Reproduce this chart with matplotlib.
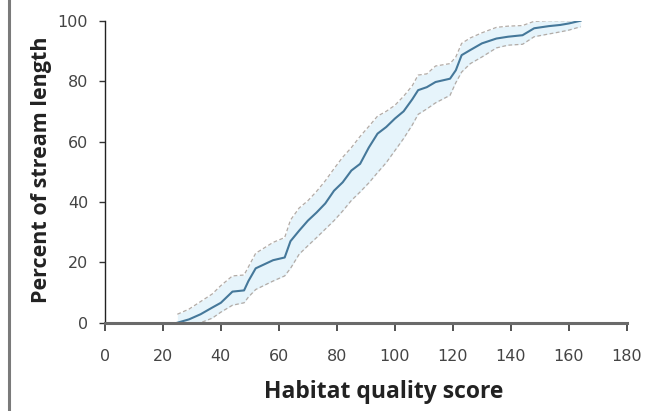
import numpy as np
import matplotlib
matplotlib.use("Agg")
import matplotlib.pyplot as plt
from matplotlib.lines import Line2D

# cumulative percent of stream length by habitat quality score
score = [25, 29, 33, 37, 40, 44, 48, 49.5, 52, 58, 62, 64, 67, 70, 73, 76, 79, 82, 85, 88,
         91, 94, 97, 100, 103, 106, 108, 111, 114, 119, 121, 123, 126, 130, 135, 139, 144,
         148, 153, 157, 160, 164]
pct_median = [0, 1.1, 2.8, 5, 6.6, 10.3, 10.7, 13.8, 18, 20.7, 21.6, 27, 30.5, 33.8, 36.5,
              39.5, 43.7, 46.5, 50.4, 52.6, 58, 62.6, 64.8, 67.6, 70, 74, 77, 78, 79.7, 80.8,
              83.6, 88.6, 90.3, 92.5, 94.1, 94.7, 95.2, 97.5, 98.2, 98.6, 99.1, 100]
pct_upper = [2.8, 4.5, 7, 9.5, 12.3, 15.5, 15.8, 18.5, 23, 26.6, 28.2, 34, 38, 40.4, 43.5,
             47, 51, 54.8, 58, 61.7, 65, 68.4, 70, 72, 75, 78.5, 82, 82.4, 85, 85.8, 88, 92.5,
             94.3, 96, 97.8, 98.2, 98.4, 99.8, 100, 100, 100, 100]
pct_lower = [0, 0, 0, 1.5, 3.5, 5.8, 6.6, 8.5, 11, 13.8, 15.5, 18, 22.7, 25.5, 28.2, 31,
             33.8, 37, 40.5, 43.3, 46.3, 49.7, 53, 57, 61, 65.5, 69, 70.8, 72.8, 75.3, 79.5,
             83, 85.8, 88, 91, 91.9, 92.2, 94.7, 95.6, 96.3, 96.9, 98]

x_ticks = [0, 20, 40, 60, 80, 100, 120, 140, 160, 180]
y_ticks = [0, 20, 40, 60, 80, 100]

fig = plt.figure(figsize=(6.72, 4.11), dpi=100)
ax = fig.add_axes([0.156, 0.2148, 0.777, 0.7348])

ax.fill_between(score, pct_lower, pct_upper, color="#e6f4fb", lw=0, zorder=1)
ax.plot(score, pct_upper, color="#b2aba6", lw=0.9, ls=(0, (3, 2)), zorder=2)
ax.plot(score, pct_lower, color="#b2aba6", lw=0.9, ls=(0, (3, 2)), zorder=2)
ax.plot(score, pct_median, color="#45789a", lw=1.5, zorder=3)

ax.set_xlim(0, 180)
ax.set_ylim(0, 100)
ax.set_xticks(x_ticks)
ax.set_yticks(y_ticks)

for side in ("top", "right"):
    ax.spines[side].set_visible(False)
ax.spines["bottom"].set_color("#6a6a6a")
ax.spines["bottom"].set_linewidth(2.2)
ax.spines["bottom"].set_zorder(4)
ax.spines["left"].set_color("#222222")
ax.spines["left"].set_linewidth(1.0)

ax.tick_params(axis="x", direction="out", length=6, width=1.2, color="#333333",
               pad=13, labelsize=11.5, labelcolor="#444444")
ax.tick_params(axis="y", direction="out", length=4, width=1.0, color="#333333",
               pad=8, labelsize=11.5, labelcolor="#444444")
for lab in ax.get_xticklabels() + ax.get_yticklabels():
    lab.set_fontfamily("DejaVu Sans")

ax.set_xlabel("Habitat quality score", fontsize=16.5, fontweight="bold",
              fontfamily="Open Sans", color="#222222")
ax.xaxis.set_label_coords(0.534, -0.19)
ax.set_ylabel("Percent of stream length", fontsize=15.5, fontweight="bold",
              fontfamily="Open Sans", color="#222222", va="center", ha="center")
ax.yaxis.set_label_coords(-0.122, 0.505)

# grey frame edge on the left
fig.add_artist(Line2D([9 / 672, 9 / 672], [0, 1], color="#7a7a7a", lw=2.2,
                      transform=fig.transFigure))

fig.savefig("out.png", dpi=100)
